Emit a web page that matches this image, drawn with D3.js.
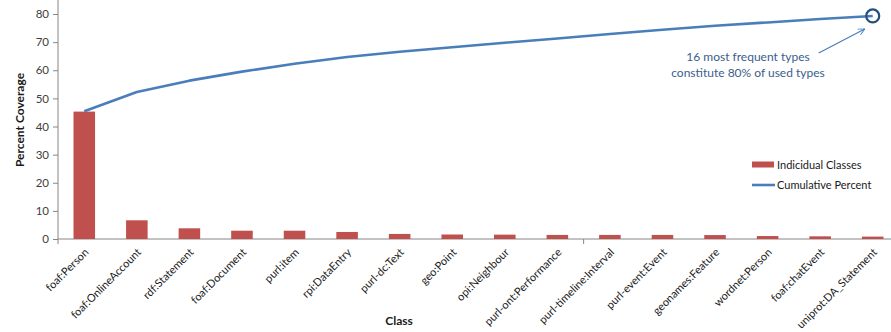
<!DOCTYPE html>
<html>
<head>
<meta charset="utf-8">
<script src="https://cdn.jsdelivr.net/npm/d3@7"></script>
<style>
  html, body { margin: 0; padding: 0; background: #fff; }
  svg { display: block; font-family: Lato, "Open Sans", "Liberation Sans", sans-serif; }
</style>
</head>
<body>
<svg id="chart" width="891" height="332"></svg>
<script>
const categories = ["foaf:Person","foaf:OnlineAccount","rdf:Statement","foaf:Document","purl:item","rpi:DataEntry","purl-dc:Text","geo:Point","opi:Neighbour","purl-ont:Performance","purl-timeline:Interval","purl-event:Event","geonames:Feature","wordnet:Person","foaf:chatEvent","uniprot:DA_Statement"];
const individual = [45.3, 6.65, 3.8, 2.95, 2.95, 2.5, 1.8, 1.6, 1.55, 1.45, 1.45, 1.45, 1.4, 1.05, 0.95, 0.85];
const cumulative = [45.4, 52.3, 56.3, 59.5, 62.3, 64.7, 66.6, 68.2, 69.8, 71.3, 72.9, 74.4, 75.8, 77.0, 78.2, 79.3];
const yTicks = [0, 10, 20, 30, 40, 50, 60, 70, 80];
const seriesNames = ["Indicidual Classes", "Cumulative Percent"];
const annotationLines = ["16 most frequent types", "constitute 80% of used types"];

const svg = d3.select("#chart");
const left = 58, bottom = 239;
const x = d3.scaleBand().domain(categories).range([left, 899]).paddingInner(0.59).paddingOuter(0.295);
const y = d3.scaleLinear().domain([0, 80]).range([bottom, 14]);
const axisColor = "#868686";
const textColor = "#404040";

// Y axis
const yAxis = svg.append("g").attr("transform", `translate(${left},0)`)
  .call(d3.axisLeft(y).tickValues(yTicks).tickSize(5).tickPadding(4));
yAxis.select(".domain").remove();
yAxis.selectAll(".tick line").attr("stroke", axisColor);
yAxis.selectAll(".tick text").attr("fill", textColor).style("font-size", "11.5px")
  .style("font-family", "Lato, 'Open Sans', sans-serif");
svg.append("line").attr("x1", left).attr("x2", left).attr("y1", y(0)).attr("y2", y(85))
  .attr("stroke", axisColor).attr("stroke-width", 1);

// X axis line + ticks
svg.append("line").attr("x1", left).attr("x2", 899).attr("y1", bottom).attr("y2", bottom)
  .attr("stroke", axisColor).attr("stroke-width", 1);
const step = x.step();
[0, 10].forEach(i => {
  const tx = x.range()[0] + i * step;
  svg.append("line").attr("x1", tx).attr("x2", tx).attr("y1", bottom).attr("y2", bottom + 5)
    .attr("stroke", axisColor);
});

// Bars
svg.append("g").selectAll("rect").data(individual).join("rect")
  .attr("x", (d, i) => x(categories[i]))
  .attr("width", x.bandwidth())
  .attr("y", d => y(d))
  .attr("height", d => bottom - y(d))
  .attr("fill", "#C0504D");

// X labels
svg.append("g").selectAll("text").data(categories).join("text")
  .attr("transform", d => `translate(${x(d) + x.bandwidth() / 2 + 5},${bottom + 14}) rotate(-45)`)
  .attr("text-anchor", "end")
  .attr("fill", "#1a1a1a")
  .style("font-size", "11px")
  .text(d => d);

// Cumulative line
const line = d3.line()
  .x((d, i) => x(categories[i]) + x.bandwidth() / 2)
  .y(d => y(d));
svg.append("path").datum(cumulative).attr("d", line)
  .attr("fill", "none").attr("stroke", "#4A7EBB").attr("stroke-width", 2.6)
  .attr("stroke-linejoin", "round");

// End circle
const lastX = x(categories[categories.length - 1]) + x.bandwidth() / 2;
const lastY = y(cumulative[cumulative.length - 1]);
svg.append("circle").attr("cx", lastX).attr("cy", lastY).attr("r", 6.5)
  .attr("fill", "none").attr("stroke", "#254E7F").attr("stroke-width", 2.2);

// Annotation arrow
svg.append("defs").append("marker").attr("id", "arr").attr("viewBox", "0 0 10 10")
  .attr("refX", 9).attr("refY", 5).attr("markerWidth", 8).attr("markerHeight", 8)
  .attr("orient", "auto").attr("markerUnits", "userSpaceOnUse")
  .append("path").attr("d", "M1,1 L9,5 L1,9").attr("fill", "none").attr("stroke", "#4A7EBB").attr("stroke-width", 1.2);
svg.append("line").attr("x1", lastX - 54).attr("y1", 53).attr("x2", lastX - 8).attr("y2", 29)
  .attr("stroke", "#4A7EBB").attr("stroke-width", 1.2).attr("marker-end", "url(#arr)");

svg.append("g").selectAll("text").data(annotationLines).join("text")
  .attr("x", 748).attr("y", (d, i) => 61 + i * 16)
  .attr("text-anchor", "middle").attr("fill", "#3B5E8C")
  .style("font-size", "12px").text(d => d);

// Axis titles
svg.append("text").attr("transform", "translate(24,120) rotate(-90)")
  .attr("text-anchor", "middle").style("font-size", "12px").style("font-weight", "bold")
  .attr("fill", "#1a1a1a").text("Percent Coverage");
svg.append("text").attr("x", 399).attr("y", 325)
  .attr("text-anchor", "middle").style("font-size", "12px").style("font-weight", "bold")
  .attr("fill", "#1a1a1a").text("Class");

// Legend
const lg = svg.append("g");
lg.append("rect").attr("x", 752).attr("y", 161.5).attr("width", 22).attr("height", 6).attr("fill", "#C0504D");
lg.append("line").attr("x1", 752).attr("x2", 775).attr("y1", 185).attr("y2", 185)
  .attr("stroke", "#4A7EBB").attr("stroke-width", 2.6);
lg.selectAll("text").data(seriesNames).join("text")
  .attr("x", 777).attr("y", (d, i) => 168.5 + i * 20.5)
  .attr("fill", "#1a1a1a").style("font-size", "11px").text(d => d);
</script>
</body>
</html>
